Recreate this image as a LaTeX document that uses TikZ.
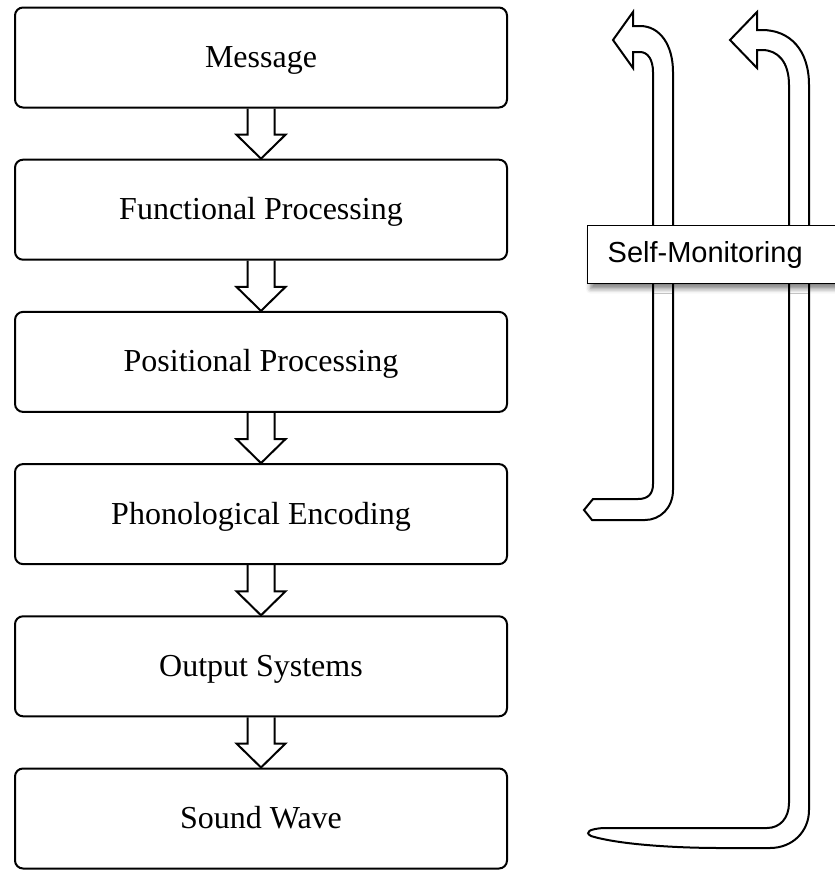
\documentclass[tikz,border=0pt]{standalone}
\usepackage{fontspec}
\setmainfont{Liberation Serif}
\newfontfamily\labelsans{Liberation Sans}
\usetikzlibrary{calc,shadows.blur}
\tikzset{
  stage/.style={draw=black, line width=2pt, rounded corners=8pt, fill=white,
    minimum width=492pt, minimum height=100pt, inner sep=0pt,
    text height=22pt, text depth=2pt,
    font=\fontsize{32}{36}\selectfont},
  outline/.style={draw=black, line width=2pt, line join=miter, fill=white},
  monitor/.style={draw=black, line width=1.3pt, fill=white, anchor=north west,
    minimum width=300pt, minimum height=58pt, text width=265pt, align=left,
    inner xsep=20pt, font=\labelsans\fontsize{29}{33}\selectfont,
    blur shadow={shadow xshift=3pt, shadow yshift=-5pt, shadow blur radius=5pt, shadow opacity=50}}
}
\newcommand{\downblock}[2]{%
  \draw[outline, fill=none] let \p1=(#1.south), \p2=(#2.north) in
    (\x1-13.5pt,\y1) -- (\x1-13.5pt,\y2+24pt) -- (\x1-24.5pt,\y2+24pt) -- (\x1,\y2)
    -- (\x1+24.5pt,\y2+24pt) -- (\x1+13.5pt,\y2+24pt) -- (\x1+13.5pt,\y1);}
\begin{document}
\begin{tikzpicture}[x=1pt,y=-1pt]
\useasboundingbox (0,0) rectangle (835,870);
\clip (0,0) rectangle (835,870);
% stages
\node[stage] (m) at (261,57.5) {Message};
\node[stage] (f) at (261,209.7) {Functional Processing};
\node[stage] (p) at (261,361.9) {Positional Processing};
\node[stage] (ph) at (261,514.1) {Phonological Encoding};
\node[stage] (o) at (261,666.3) {Output Systems};
\node[stage] (s) at (261,818.5) {Sound Wave};
\downblock{m}{f}
\downblock{f}{p}
\downblock{p}{ph}
\downblock{ph}{o}
\downblock{o}{s}
% short feedback arrow (to phonological encoding)
\draw[outline] (593,499) -- (638,499)
  .. controls (648,499) and (653,494) .. (653,484)
  -- (653,72)
  .. controls (653,60) and (648,52) .. (640,52)
  -- (633,52) -- (633,68) -- (613,40) -- (633,12) -- (633,26) -- (640,26)
  .. controls (660,26) and (673,45) .. (673,72)
  -- (673,490)
  .. controls (673,508) and (660,520) .. (645,520)
  -- (592,520) -- (584,510) -- cycle;
% long feedback arrow (from sound wave)
\draw[outline] (767,828) -- (603,828)
  .. controls (590,829) and (584,832) .. (591,836)
  .. controls (620,845) and (680,848) .. (720,848)
  -- (770,848)
  .. controls (792,848) and (809,832) .. (809,810)
  -- (809,85)
  .. controls (809,50) and (790,30) .. (762,30)
  -- (757,30) -- (757,12) -- (730,40) -- (757,68) -- (757,50) -- (762,50)
  .. controls (778,50) and (789,62) .. (789,85)
  -- (789,803)
  .. controls (789,818) and (780,828) .. (767,828) -- cycle;
% self-monitoring label
\node[monitor] (sm) at (587,225) {Self-Monitoring};
\end{tikzpicture}
\end{document}
